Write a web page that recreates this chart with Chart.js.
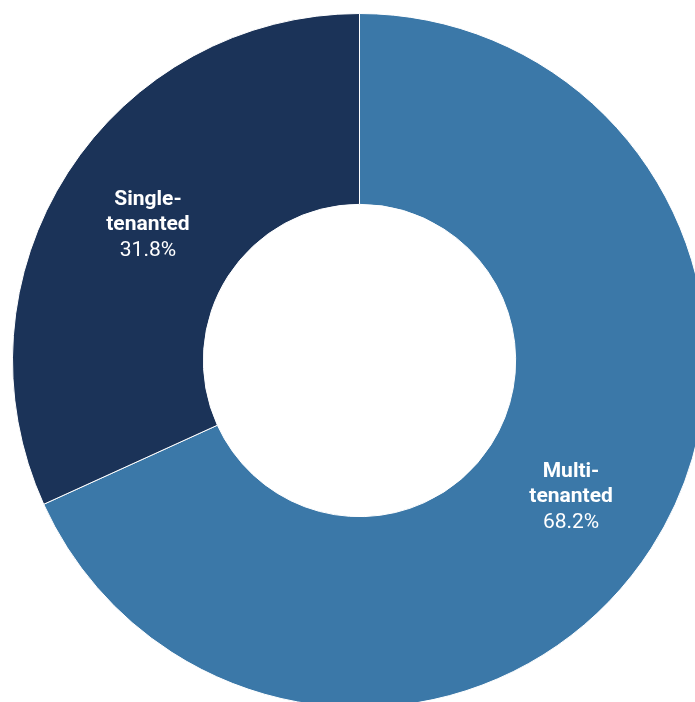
<!DOCTYPE html>
<html>
<head>
<meta charset="utf-8">
<script src="https://cdn.jsdelivr.net/npm/chart.js@4"></script>
<style>
  html, body { margin: 0; padding: 0; background: #fff; overflow: hidden; }
  #wrap { position: relative; width: 719px; height: 721px; }
</style>
</head>
<body>
<div id="wrap"><canvas id="donut"></canvas></div>
<script>
var categories = ['Multi-tenanted', 'Single-tenanted'];
var labelLines = [['Multi-', 'tenanted'], ['Single-', 'tenanted']];
var shares = [68.2, 31.8];
var colors = ['#3b78a8', '#1b3358'];

var sliceLabels = {
  id: 'sliceLabels',
  afterDatasetsDraw: function (chart) {
    var ctx = chart.ctx;
    var meta = chart.getDatasetMeta(0);
    ctx.save();
    ctx.fillStyle = '#fff';
    ctx.textAlign = 'center';
    ctx.textBaseline = 'middle';
    meta.data.forEach(function (arc, i) {
      var p = arc.getCenterPoint();
      var lines = labelLines[i];
      var lh = 25;
      var y0 = p.y - lh;
      ctx.font = 'bold 21px Roboto, sans-serif';
      ctx.fillText(lines[0], p.x, y0);
      ctx.fillText(lines[1], p.x, y0 + lh);
      ctx.font = '21px Roboto, sans-serif';
      ctx.fillText(shares[i].toFixed(1) + '%', p.x, y0 + 2 * lh + 1);
    });
    ctx.restore();
  }
};

new Chart(document.getElementById('donut').getContext('2d'), {
  type: 'doughnut',
  data: {
    labels: categories,
    datasets: [{ data: shares, backgroundColor: colors, borderColor: '#ffffff', borderWidth: 1 }]
  },
  options: {
    responsive: true,
    maintainAspectRatio: false,
    animation: false,
    cutout: '45%',
    layout: { padding: 12 },
    plugins: { legend: { display: false }, tooltip: { enabled: false } }
  },
  plugins: [sliceLabels]
});
</script>
</body>
</html>
